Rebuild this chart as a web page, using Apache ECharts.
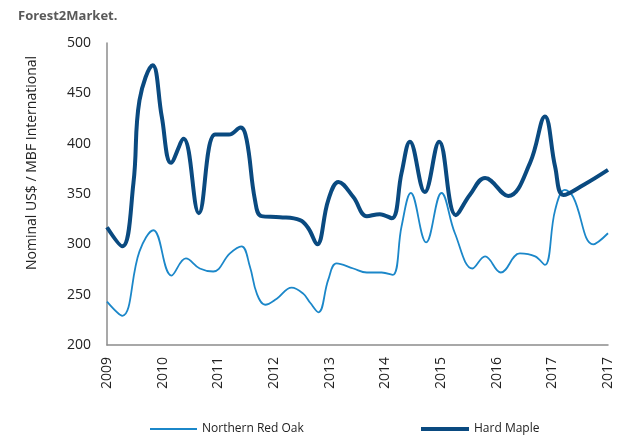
<!DOCTYPE html>
<html><head><meta charset="utf-8">
<script src="https://cdn.jsdelivr.net/npm/echarts@6/dist/echarts.min.js"></script>
<style>html,body{margin:0;padding:0;background:#fff}#c{width:620px;height:436px}</style>
</head><body><div id="c"></div>
<script>
// x positions are months since Jan 2009
const tickLabels = ["2009","2010","2011","2012","2013","2014","2015","2016","2017","2017"];
const nroX = [0,3.3,7,10,13.9,17,20,22.9,26.5,29,30.8,32.3,34.1,36.6,39.8,42.3,43.8,45.6,47.7,49.5,53.1,56,59.2,61.6,63.5,65.5,68.8,72.1,75,78.8,81.5,84.9,89,92.3,94.4,96.6,98.7,100.5,104.8,108];
const nroY = [243,229,293,314,269,286,276,273,291,298,278,251,240,246,257,251,242,232.5,265,281,276,272,272,269.6,318,351,302,351,311,276,288,272,291,288,279.5,334,354,347,300,311];
const hmX = [0,3.3,5.7,7,9.85,11.8,13.8,16.5,19.8,23.3,26.3,28.8,30.1,31.9,33.3,37.3,41.6,43.4,45.3,47.7,49.9,53.1,56,58.8,61.4,63.5,65.3,68.5,71.6,75.2,78.2,81.5,86.5,91.2,94.4,96.6,98.4,102.7,108];
const hmY = [317,298,361,443,478,427,381,405,331,409,409,416,404,344,328,327,324,316,300,344,362,347,328,330,326,371,402,352,402,329,349,366,348,381,427,377,349,359,374];

const font = "'Open Sans', sans-serif";
const pairs = (xs, ys) => xs.map((x, i) => [x, ys[i]]);
const chart = echarts.init(document.getElementById('c'));
chart.setOption({
  animation: false,
  title: { text: 'Forest2Market.', left: 13, top: 5,
    textStyle: { fontFamily: font, fontSize: 13, fontWeight: 'bold', color: '#595959' } },
  graphic: [{ type: 'text', x: 32, y: 163, rotation: Math.PI / 2,
    style: { text: 'Nominal US$ / MBF International', font: '14px ' + font, fill: '#222',
      textAlign: 'center', textVerticalAlign: 'middle' } }],
  grid: { left: 107, right: 12, top: 43, bottom: 91 },
  legend: [
    { left: 145, top: 418, data: ['Northern Red Oak'], icon: 'rect', itemWidth: 47, itemHeight: 2,
      textStyle: { fontFamily: font, fontSize: 12, color: '#222' } },
    { left: 416, top: 418, data: ['Hard Maple'], icon: 'rect', itemWidth: 48, itemHeight: 4,
      textStyle: { fontFamily: font, fontSize: 12, color: '#222' } }
  ],
  xAxis: {
    type: 'value', min: 0, max: 108, interval: 12,
    axisLine: { show: true, lineStyle: { color: '#8c8c8c', width: 1.5 } },
    axisTick: { show: false }, splitLine: { show: false },
    axisLabel: { rotate: 90, margin: 12, fontFamily: font, fontSize: 14, color: '#222',
      formatter: v => tickLabels[Math.round(v / 12)] }
  },
  yAxis: {
    type: 'value', min: 200, max: 500, interval: 50,
    axisLine: { show: true, lineStyle: { color: '#8c8c8c', width: 1.5 } },
    axisTick: { show: false }, splitLine: { show: false },
    axisLabel: { margin: 16, fontFamily: font, fontSize: 14, color: '#222' }
  },
  series: [
    { name: 'Northern Red Oak', type: 'line', smooth: 0.4, showSymbol: false,
      data: pairs(nroX, nroY), lineStyle: { color: '#1b87c9', width: 1.8 }, itemStyle: { color: '#1b87c9' } },
    { name: 'Hard Maple', type: 'line', smooth: 0.4, showSymbol: false,
      data: pairs(hmX, hmY), lineStyle: { color: '#0a4a80', width: 4 }, itemStyle: { color: '#0a4a80' } }
  ]
});
</script></body></html>
